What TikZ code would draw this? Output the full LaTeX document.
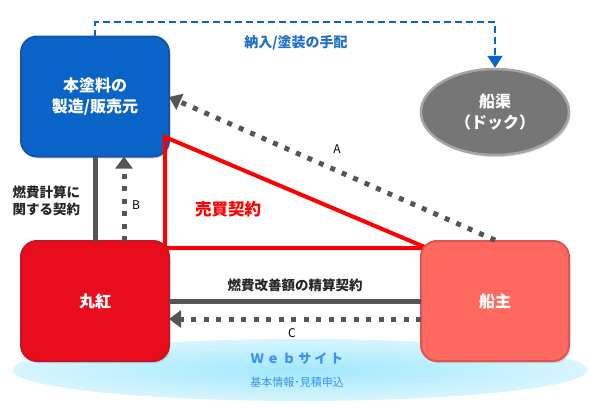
\documentclass[tikz,border=0pt]{standalone}
\usepackage{fontspec}
\setmainfont{Noto Sans CJK JP}
\usetikzlibrary{shapes.geometric,arrows.meta,shadows,calc}
\definecolor{bluebox}{RGB}{10,100,200}
\definecolor{blueedge}{RGB}{20,85,170}
\definecolor{redbox}{RGB}{232,12,28}
\definecolor{rededge}{RGB}{200,20,35}
\definecolor{salmon}{RGB}{255,105,95}
\definecolor{salmonedge}{RGB}{220,85,80}
\definecolor{dockfill}{RGB}{118,118,118}
\definecolor{dockedge}{RGB}{165,165,165}
\definecolor{linegray}{RGB}{85,85,85}
\definecolor{dashblue}{RGB}{10,100,205}
\definecolor{textblue}{RGB}{30,110,205}
\definecolor{webblue}{RGB}{60,145,240}
\definecolor{bandin}{RGB}{160,232,252}
\definecolor{bandout}{RGB}{215,245,254}
\tikzset{
  boxstyle/.style={rounded corners=16pt, minimum width=148pt, minimum height=120pt,
    line width=2pt, outer sep=0pt, text=white, font=\bfseries\fontsize{16}{21}\selectfont,
    align=center, drop shadow={opacity=0.25, shadow xshift=1.5pt, shadow yshift=-2pt}},
  solidline/.style={draw=linegray, line width=5pt},
  dotline/.style={draw=linegray, line width=5pt, dash pattern=on 5pt off 7.5pt,
    -{Triangle[length=12pt,width=17pt]}},
  lbl/.style={font=\bfseries\fontsize{13.5}{17}\selectfont, text=black!85},
  letter/.style={font=\fontsize{12}{14}\selectfont, text=black}
}
\begin{document}
\begin{tikzpicture}[x=1pt,y=-1pt]
\useasboundingbox (0,0) rectangle (590,407);
% web band
\node[ellipse, minimum width=575pt, minimum height=62pt, inner color=bandin, outer color=bandout] (band) at (300,370) {};
\node[font=\bfseries\fontsize{13}{16}\selectfont\addfontfeature{LetterSpace=22}, text=webblue] (web) at (297,359) {Ｗｅｂサイト};
\node[font=\fontsize{11}{14}\selectfont, text=webblue] (info) at (297,382) {基本情報･見積申込};
% blue box
\node[boxstyle, fill=bluebox, draw=blueedge] (maker) at (95,96.5) {本塗料の\\製造/販売元};
% red triangle
\coordinate (t1) at (165,137);
\coordinate (t2) at (165,248);
\coordinate (t3) at (427,248);
\draw[red, line width=4pt, line join=miter] (t1) -- (t2) -- (t3) -- cycle;
\node[font=\bfseries\fontsize{16.5}{20}\selectfont, text=red] (sale) at (228,209) {売買契約};
% other boxes
\node[boxstyle, fill=redbox, draw=rededge] (marubeni) at (95,301) {丸紅};
\node[boxstyle, fill=salmon, draw=salmonedge] (owner) at (495,301) {船主};
\node[ellipse, minimum width=148pt, minimum height=86pt, fill=dockfill, draw=dockedge, line width=2.5pt,
  text=white, font=\bfseries\fontsize{16}{21}\selectfont, align=center,
  drop shadow={opacity=0.25, shadow xshift=1.5pt, shadow yshift=-2pt}] (dock) at (495,112) {船渠\\（ドック）};
% connectors
\draw[solidline] (maker.south) -- (marubeni.north);
\draw[solidline] (marubeni.east) -- (owner.west);
\draw[dotline] ([xshift=29pt]marubeni.north) -- ([xshift=29pt]maker.south);
\draw[dotline] ([yshift=-18pt]owner.west) -- ([yshift=-18pt]marubeni.east);
\draw[dotline, shorten <=2pt] ([xshift=2pt]owner.north) -- ([yshift=-0.5pt]maker.east);
% blue dashed
\coordinate (turn) at (495,22);
\draw[dashblue, line width=2.8pt, dash pattern=on 7pt off 4pt, -{Triangle[length=12pt,width=15pt]}]
  (maker.north) |- (turn) -- (dock.north);
% labels
\node[font=\bfseries\fontsize{14}{17}\selectfont, text=textblue] (supply) at (296,43) {納入/塗装の手配};
\node[lbl, align=left, anchor=west] (calc) at (9,201) {燃費計算に\\関する契約};
\node[lbl] (settle) at (295,285) {燃費改善額の精算契約};
\node[letter] (la) at (337,149) {A};
\node[letter] (lb) at (136,205) {B};
\node[letter] (lc) at (292,333) {C};
\end{tikzpicture}
\end{document}
